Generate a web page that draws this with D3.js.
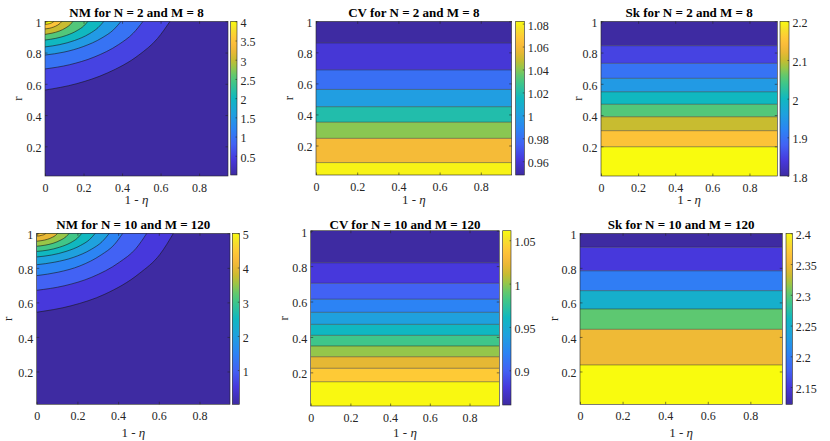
<!DOCTYPE html>
<html>
<head>
<meta charset="utf-8">
<script src="https://cdn.jsdelivr.net/npm/d3@7"></script>
<style>
  body { margin: 0; background: #fff; }
  svg { display: block; }
  svg text { font-family: "Liberation Serif", "Times New Roman", serif; }
  .tick text { font-size: 12px; }
</style>
</head>
<body>
<script>
// shared axes
const xDomain = [0, 0.95];
const rDomain = [0.01, 1];
const xTicks = [0, 0.2, 0.4, 0.6, 0.8];
const rTicks = [0.2, 0.4, 0.6, 0.8, 1];

// NM, N = 2, M = 8 : contour lines, each from the left edge up to the top edge ([1-eta, r])
const nm2Levels = [0.5, 1, 1.5, 2, 2.5, 3, 3.5, 4];
const nm2Curves = [
  [[0, 0.560], [0.162, 0.600], [0.325, 0.670], [0.487, 0.784], [0.584, 0.890], [0.649, 1]],
  [[0, 0.695], [0.127, 0.722], [0.255, 0.771], [0.382, 0.851], [0.458, 0.924], [0.509, 1]],
  [[0, 0.784], [0.099, 0.803], [0.198, 0.838], [0.296, 0.894], [0.356, 0.946], [0.395, 1]],
  [[0, 0.836], [0.077, 0.851], [0.153, 0.877], [0.230, 0.920], [0.275, 0.959], [0.306, 1]],
  [[0, 0.880], [0.056, 0.891], [0.112, 0.910], [0.167, 0.941], [0.201, 0.970], [0.223, 1]],
  [[0, 0.916], [0.036, 0.924], [0.073, 0.937], [0.109, 0.959], [0.131, 0.979], [0.145, 1]],
  [[0, 0.951], [0.022, 0.955], [0.044, 0.963], [0.066, 0.976], [0.079, 0.988], [0.088, 1]],
  [[0, 0.980], [0.012, 0.982], [0.024, 0.985], [0.035, 0.990], [0.042, 0.995], [0.047, 1]]
];
const nm2Range = [0, 4];
const nm2CbTicks = [0.5, 1, 1.5, 2, 2.5, 3, 3.5, 4];

// CV, N = 2, M = 8 : band edges in r (top to bottom) and band values
const cv2Breaks = [0.861, 0.687, 0.561, 0.450, 0.350, 0.246, 0.090];
const cv2Levels = [0.948, 0.96, 0.98, 1.0, 1.02, 1.04, 1.06, 1.08];
const cv2Range = [0.948, 1.082];
const cv2CbTicks = [0.96, 0.98, 1, 1.02, 1.04, 1.06, 1.08];

// Sk, N = 2, M = 8
const sk2Breaks = [0.844, 0.731, 0.635, 0.549, 0.469, 0.389, 0.300, 0.197];
const sk2Levels = [1.8, 1.85, 1.9, 1.95, 2.0, 2.05, 2.1, 2.15, 2.2];
const sk2Range = [1.8, 2.2];
const sk2CbTicks = [1.8, 1.9, 2, 2.1, 2.2];

// NM, N = 10, M = 120
const nm10Levels = [0.5, 1, 1.5, 2, 2.5, 3, 3.5, 4, 4.5];
const nm10Curves = [
  [[0, 0.543], [0.168, 0.580], [0.336, 0.648], [0.504, 0.767], [0.605, 0.877], [0.672, 1]],
  [[0, 0.670], [0.135, 0.696], [0.271, 0.746], [0.406, 0.832], [0.487, 0.911], [0.541, 1]],
  [[0, 0.755], [0.106, 0.775], [0.212, 0.811], [0.317, 0.875], [0.381, 0.934], [0.423, 1]],
  [[0, 0.818], [0.089, 0.833], [0.179, 0.860], [0.268, 0.907], [0.321, 0.951], [0.357, 1]],
  [[0, 0.863], [0.072, 0.874], [0.144, 0.895], [0.216, 0.930], [0.259, 0.963], [0.288, 1]],
  [[0, 0.895], [0.056, 0.903], [0.111, 0.919], [0.167, 0.946], [0.200, 0.972], [0.222, 1]],
  [[0, 0.925], [0.040, 0.931], [0.080, 0.942], [0.120, 0.962], [0.144, 0.980], [0.160, 1]],
  [[0, 0.954], [0.026, 0.958], [0.052, 0.965], [0.077, 0.977], [0.093, 0.988], [0.103, 1]],
  [[0, 0.984], [0.012, 0.985], [0.023, 0.988], [0.035, 0.992], [0.041, 0.996], [0.046, 1]]
];
const nm10Range = [0, 5];
const nm10CbTicks = [1, 2, 3, 4, 5];

// CV, N = 10, M = 120
const cv10Breaks = [0.819, 0.703, 0.613, 0.539, 0.471, 0.409, 0.349, 0.288, 0.223, 0.147];
const cv10Levels = [0.86, 0.88, 0.9, 0.92, 0.94, 0.96, 0.98, 1.0, 1.02, 1.04, 1.06];
const cv10Range = [0.86, 1.061];
const cv10CbTicks = [0.9, 0.95, 1, 1.05];

// Sk, N = 10, M = 120
const sk10Breaks = [0.919, 0.783, 0.668, 0.562, 0.444, 0.238];
const sk10Levels = [2.122, 2.15, 2.2, 2.25, 2.3, 2.35, 2.4];
const sk10Range = [2.122, 2.4];
const sk10CbTicks = [2.15, 2.2, 2.25, 2.3, 2.35, 2.4];

// parula-like colormap
const parulaT = [0, 0.1, 0.2, 0.3, 0.4, 0.5, 0.6, 0.65, 0.7, 0.75, 0.8, 0.85, 0.9, 0.95, 1];
const parulaHex = ["#3e2ba2", "#4738dc", "#4262f4", "#2c84f4", "#1fa1de", "#10b8c0", "#40c688",
  "#64c86c", "#98c648", "#c8bc30", "#e8b834", "#fabc3a", "#fecb36", "#f6e12a", "#f9fb0e"];
const parula = d3.scaleLinear().domain(parulaT).range(parulaHex).clamp(true);

const SERIF = '"Liberation Serif", "Times New Roman", serif';

const panels = [
  { title: "NM for N = 2 and M = 8", plot: [45, 21.3, 183, 154.7], cb: [230.7, 21.3, 6.3, 153.7],
    ylab: 17, titleY: 12, xlabY: 199, levels: nm2Levels, curves: nm2Curves, range: nm2Range, cbTicks: nm2CbTicks },
  { title: "CV for N = 2 and M = 8", plot: [316, 21.3, 195.7, 153.7], cb: [515.7, 21.3, 8.6, 153.7],
    ylab: 288.5, titleY: 12, xlabY: 199, levels: cv2Levels, breaks: cv2Breaks, range: cv2Range, cbTicks: cv2CbTicks },
  { title: "Sk for N = 2 and M = 8", plot: [601, 21.3, 176.3, 154.7], cb: [780, 21.3, 9, 154.7],
    ylab: 577, titleY: 12, xlabY: 199, levels: sk2Levels, breaks: sk2Breaks, range: sk2Range, cbTicks: sk2CbTicks },
  { title: "NM for N = 10 and M = 120", plot: [36.7, 233.3, 193.3, 171], cb: [232.3, 233.3, 7, 171],
    ylab: 7, titleY: 224.5, xlabY: 432, levels: nm10Levels, curves: nm10Curves, range: nm10Range, cbTicks: nm10CbTicks },
  { title: "CV for N = 10 and M = 120", plot: [310.7, 230.7, 188.6, 175.3], cb: [502.7, 230.7, 8.3, 174.3],
    ylab: 283, titleY: 224.5, xlabY: 432, levels: cv10Levels, breaks: cv10Breaks, range: cv10Range, cbTicks: cv10CbTicks },
  { title: "Sk for N = 10 and M = 120", plot: [580, 233.3, 202.3, 171], cb: [786, 233.3, 6.3, 171],
    ylab: 553, titleY: 224.5, xlabY: 432, levels: sk10Levels, breaks: sk10Breaks, range: sk10Range, cbTicks: sk10CbTicks }
];

const fmt = d3.format("~g");
const svg = d3.select("body").append("svg").attr("width", 830).attr("height", 441);
const defs = svg.append("defs");

function styleAxis(g) {
  g.select(".domain").remove();
  g.attr("font-family", null).attr("font-size", null);
  g.selectAll("line").attr("stroke", "#262626").attr("stroke-width", 0.6);
  g.selectAll("text").style("font-family", SERIF).style("font-size", "12px").attr("fill", "#262626");
}

panels.forEach((p, i) => {
  const [px, py, pw, ph] = p.plot;
  const x = d3.scaleLinear().domain(xDomain).range([px, px + pw]);
  const y = d3.scaleLinear().domain(rDomain).range([py + ph, py]);
  const col = (v) => parula((v - p.range[0]) / (p.range[1] - p.range[0]));

  defs.append("clipPath").attr("id", "clip" + i)
    .append("rect").attr("x", px).attr("y", py).attr("width", pw).attr("height", ph);
  const g = svg.append("g").attr("clip-path", `url(#clip${i})`);

  if (p.curves) {
    g.append("rect").attr("x", px).attr("y", py).attr("width", pw).attr("height", ph)
      .attr("fill", col(p.range[0]));
    const line = d3.line().x((d) => x(d[0])).y((d) => y(d[1])).curve(d3.curveMonotoneX);
    p.curves.forEach((c, k) => {
      g.append("path").attr("d", line(c) + `L${x(0)},${y(1)}Z`).attr("fill", col(p.levels[k]));
    });
    p.curves.forEach((c) => {
      g.append("path").attr("d", line(c)).attr("fill", "none")
        .attr("stroke", "#1a1a1a").attr("stroke-width", 0.6);
    });
  } else {
    const edges = [rDomain[1], ...p.breaks, rDomain[0]];
    p.levels.forEach((lv, k) => {
      g.append("rect").attr("x", px).attr("width", pw)
        .attr("y", y(edges[k])).attr("height", y(edges[k + 1]) - y(edges[k]))
        .attr("fill", col(lv));
    });
    p.breaks.forEach((b) => {
      g.append("line").attr("x1", px).attr("x2", px + pw).attr("y1", y(b)).attr("y2", y(b))
        .attr("stroke", "#1a1a1a").attr("stroke-opacity", 0.75).attr("stroke-width", 0.6);
    });
  }

  // axes with inward ticks on all four sides
  svg.append("g").attr("transform", `translate(0,${py + ph})`)
    .call(d3.axisBottom(x).tickValues(xTicks).tickFormat(fmt).tickSizeInner(-2.5).tickSizeOuter(0).tickPadding(7))
    .call(styleAxis);
  svg.append("g").attr("transform", `translate(0,${py})`)
    .call(d3.axisTop(x).tickValues(xTicks).tickFormat("").tickSizeInner(-2.5).tickSizeOuter(0))
    .call(styleAxis);
  svg.append("g").attr("transform", `translate(${px},0)`)
    .call(d3.axisLeft(y).tickValues(rTicks).tickFormat(fmt).tickSizeInner(-2.5).tickSizeOuter(0).tickPadding(3.5))
    .call(styleAxis)
    .call((a) => a.selectAll("text").attr("dy", "0.45em"));
  svg.append("g").attr("transform", `translate(${px + pw},0)`)
    .call(d3.axisRight(y).tickValues(rTicks).tickFormat("").tickSizeInner(-2.5).tickSizeOuter(0))
    .call(styleAxis);
  svg.append("rect").attr("x", px).attr("y", py).attr("width", pw).attr("height", ph)
    .attr("fill", "none").attr("stroke", "#262626").attr("stroke-width", 0.6);

  // colorbar
  const [cx, cy, cw, ch] = p.cb;
  const grad = defs.append("linearGradient").attr("id", "grad" + i)
    .attr("x1", 0).attr("y1", 1).attr("x2", 0).attr("y2", 0);
  parulaT.forEach((t, k) => grad.append("stop").attr("offset", t).attr("stop-color", parulaHex[k]));
  svg.append("rect").attr("x", cx).attr("y", cy).attr("width", cw).attr("height", ch)
    .attr("fill", `url(#grad${i})`).attr("stroke", "#262626").attr("stroke-width", 0.6);
  const cs = d3.scaleLinear().domain(p.range).range([cy + ch, cy]);
  svg.append("g").attr("transform", `translate(${cx + cw},0)`)
    .call(d3.axisRight(cs).tickValues(p.cbTicks).tickFormat(fmt).tickSizeInner(-1.5).tickSizeOuter(0).tickPadding(3.5))
    .call(styleAxis)
    .call((a) => a.selectAll("text").attr("dy", "0.45em"));

  // titles and labels
  svg.append("text").attr("x", px + pw / 2).attr("y", p.titleY + 4.5)
    .attr("text-anchor", "middle").style("font-family", SERIF).style("font-size", "13px")
    .style("font-weight", "bold").attr("fill", "#000").text(p.title);
  const xl = svg.append("text").attr("x", px + pw / 2).attr("y", p.xlabY + 4.5)
    .attr("text-anchor", "middle").style("font-family", SERIF).style("font-size", "13px").attr("fill", "#262626");
  xl.append("tspan").text("1 - ");
  xl.append("tspan").style("font-style", "italic").text("\u03B7");
  svg.append("text").attr("transform", `translate(${p.ylab},${py + ph / 2}) rotate(-90)`)
    .attr("text-anchor", "middle").attr("dy", "0.35em").style("font-family", SERIF)
    .style("font-size", "13px").attr("fill", "#262626").text("r");
});
</script>
</body>
</html>
